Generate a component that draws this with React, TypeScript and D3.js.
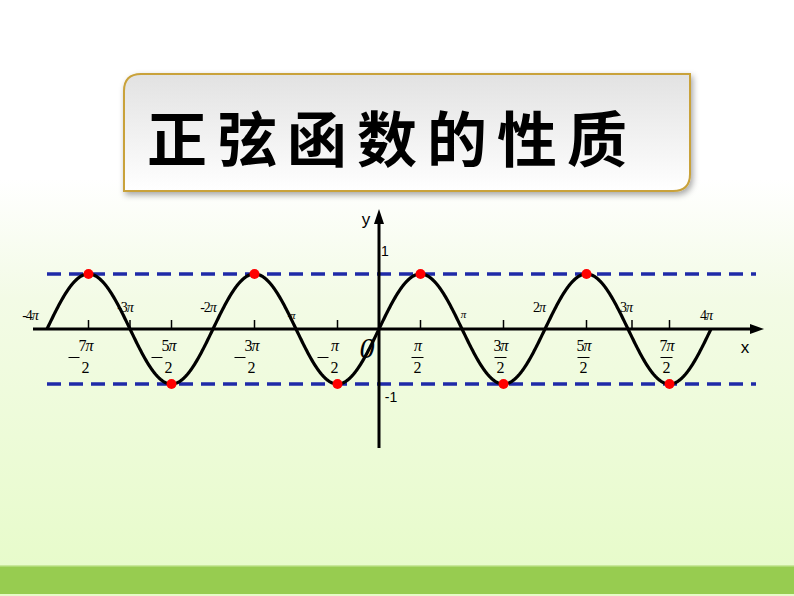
import React from "react";
import * as d3 from "d3";

const W = 794;
const H = 596;
const PI = Math.PI;

// Domain of the plotted curve (in units of π)
const curveStartPi = -4;
const curveEndPi = 4;
// Horizontal labels at integer multiples of π
const piMultiples = [-4, -3, -2, -1, 1, 2, 3, 4];
const piLabels = ["-4π", "-3π", "-2π", "-π", "π", "2π", "3π", "4π"];
// Half-π fraction labels (numerator k in kπ/2)
const halfNumerators = [-7, -5, -3, -1, 1, 3, 5, 7];
const halfNumLabels = ["7π", "5π", "3π", "π", "π", "3π", "5π", "7π"];
// Extremum points (x in π units, y value)
const extremaX = [-3.5, -2.5, -1.5, -0.5, 0.5, 1.5, 2.5, 3.5];
const extremaY = [1, -1, 1, -1, 1, -1, 1, -1];
// Horizontal reference lines
const boundLines = [1, -1];
const yTickLabels = ["1", "-1"];
const title = "正弦函数的性质";

const x = d3.scaleLinear().domain([-4 * PI, 4 * PI]).range([47, 711]);
const y = d3.scaleLinear().domain([-1, 1]).range([384, 274]);

export default function App() {
  React.useEffect(() => {
    document.body.style.margin = "0";
  }, []);

  const samples = d3.range(0, 801).map((i) => {
    const t = (curveStartPi + ((curveEndPi - curveStartPi) * i) / 800) * PI;
    return [t, Math.sin(t)] as [number, number];
  });
  const line = d3
    .line<[number, number]>()
    .x((d) => x(d[0]))
    .y((d) => y(d[1]));

  const y0 = y(0);
  const x0 = x(0);
  const serif = "'Liberation Serif', 'Times New Roman', serif";
  const sans = "'Liberation Sans', Arial, sans-serif";

  const piLabelOffsets: Record<number, [number, number, number]> = {
    [-4]: [-17, 320, 14],
    [-3]: [-5, 312, 14],
    [-2]: [-5, 312, 14],
    [-1]: [-5, 319, 11],
    [1]: [1, 318, 11],
    [2]: [-6, 312, 14],
    [3]: [-2, 312, 14],
    [4]: [-5, 320, 14],
  };

  const renderPiText = (s: string) => {
    const parts = s.split("π");
    return (
      <>
        {parts[0] !== "" && <tspan fontStyle="normal">{parts[0]}</tspan>}
        <tspan fontStyle="italic">π</tspan>
      </>
    );
  };

  return (
    <svg
      width={W}
      height={H}
      style={{ position: "absolute", left: 0, top: 0, display: "block" }}
    >
      <defs>
        <linearGradient id="bg" x1="0" y1="0" x2="0" y2="1">
          <stop offset="0" stopColor="#ffffff" />
          <stop offset="0.3" stopColor="#ffffff" />
          <stop offset="0.5" stopColor="#f3fbe6" />
          <stop offset="1" stopColor="#e6fbc8" />
        </linearGradient>
        <linearGradient id="titleFill" x1="0" y1="0" x2="0" y2="1">
          <stop offset="0" stopColor="#e2e2e2" />
          <stop offset="1" stopColor="#ffffff" />
        </linearGradient>
        <filter id="shadow" x="-10%" y="-10%" width="120%" height="130%">
          <feDropShadow dx="2" dy="3" stdDeviation="3" floodColor="#000" floodOpacity="0.35" />
        </filter>
      </defs>

      <rect x={0} y={0} width={W} height={H} fill="url(#bg)" />
      <rect x={0} y={566} width={W} height={28} fill="#97cc50" />
      <rect x={0} y={565} width={W} height={1.5} fill="#c8e89a" />

      {/* Title box */}
      <path
        d="M 141 74 L 690 74 L 690 174 Q 690 191 673 191 L 124 191 L 124 91 Q 124 74 141 74 Z"
        fill="url(#titleFill)"
        stroke="#c9a23a"
        strokeWidth={2}
        filter="url(#shadow)"
      />
      <text
        x={392}
        y={162}
        textAnchor="middle"
        fontFamily="'Noto Sans CJK SC', sans-serif"
        fontWeight={700}
        fontSize={60}
        letterSpacing={10}
        fill="#000"
      >
        {title}
      </text>

      {/* Bound dashed lines */}
      {boundLines.map((v) => (
        <line
          key={v}
          x1={47}
          x2={756}
          y1={y(v)}
          y2={y(v)}
          stroke="#1f2aa8"
          strokeWidth={3.5}
          strokeDasharray="14 8"
        />
      ))}

      {/* X axis */}
      <line x1={33} x2={752} y1={y0} y2={y0} stroke="#000" strokeWidth={3} />
      <path d={`M 764 ${y0} L 750 ${y0 - 5} L 750 ${y0 + 5} Z`} fill="#000" />
      {/* Y axis */}
      <line x1={x0} x2={x0} y1={448} y2={222} stroke="#000" strokeWidth={3} />
      <path d={`M ${x0} 209 L ${x0 - 5} 224 L ${x0 + 5} 224 Z`} fill="#000" />

      {/* tick marks at half-pi */}
      {halfNumerators.map((k) => (
        <line
          key={k}
          x1={x((k * PI) / 2)}
          x2={x((k * PI) / 2)}
          y1={y0}
          y2={y0 - 9}
          stroke="#000"
          strokeWidth={1.5}
        />
      ))}
      {[-3, 3].map((k) => (
        <line
          key={"t" + k}
          x1={x(k * PI) + (k < 0 ? 0 : 4)}
          x2={x(k * PI) + (k < 0 ? 0 : 4)}
          y1={y0}
          y2={y0 - 9}
          stroke="#000"
          strokeWidth={1.5}
        />
      ))}

      {/* Sine curve */}
      <path d={line(samples) || ""} fill="none" stroke="#000" strokeWidth={3.2} />

      {/* pi labels */}
      {piMultiples.map((k, i) => {
        const [dx, yy, fs] = piLabelOffsets[k];
        return (
          <text
            key={k}
            x={x(k * PI) + dx}
            y={yy}
            textAnchor="middle"
            fontFamily={serif}
            fontSize={fs}
            fill="#000"
            letterSpacing={-1}
          >
            {renderPiText(piLabels[i])}
          </text>
        );
      })}

      {/* half pi fraction labels */}
      {halfNumerators.map((k, i) => {
        const cx = x((k * PI) / 2) - 3;
        return (
          <g key={k} fontFamily={serif} fill="#000">
            <text x={cx} y={351} textAnchor="middle" fontSize={16} letterSpacing={-1}>
              {renderPiText(halfNumLabels[i])}
            </text>
            {k < 0 ? (
              <line x1={cx - 17} x2={cx - 6} y1={357.5} y2={357.5} stroke="#000" strokeWidth={1} />
            ) : (
              <line x1={cx - 6} x2={cx + 6} y1={357.5} y2={357.5} stroke="#000" strokeWidth={1} />
            )}
            <text x={cx} y={373} textAnchor="middle" fontSize={16}>
              2
            </text>
          </g>
        );
      })}

      {/* Extrema points */}
      {extremaX.map((v, i) => (
        <circle key={v} cx={x(v * PI)} cy={y(extremaY[i])} r={5} fill="#ff0000" />
      ))}

      {/* Axis texts */}
      <text x={366} y={225} textAnchor="middle" fontFamily={sans} fontSize={17} fill="#000">
        y
      </text>
      <text x={385} y={256} textAnchor="middle" fontFamily={sans} fontSize={14} fill="#000">
        {yTickLabels[0]}
      </text>
      <text x={391} y={402} textAnchor="middle" fontFamily={sans} fontSize={14} fill="#000">
        {yTickLabels[1]}
      </text>
      <text x={745} y={353} textAnchor="middle" fontFamily={sans} fontSize={17} fill="#000">
        x
      </text>
      <text x={367} y={358} textAnchor="middle" fontFamily={serif} fontStyle="italic" fontSize={30} fill="#000">
        0
      </text>
    </svg>
  );
}
